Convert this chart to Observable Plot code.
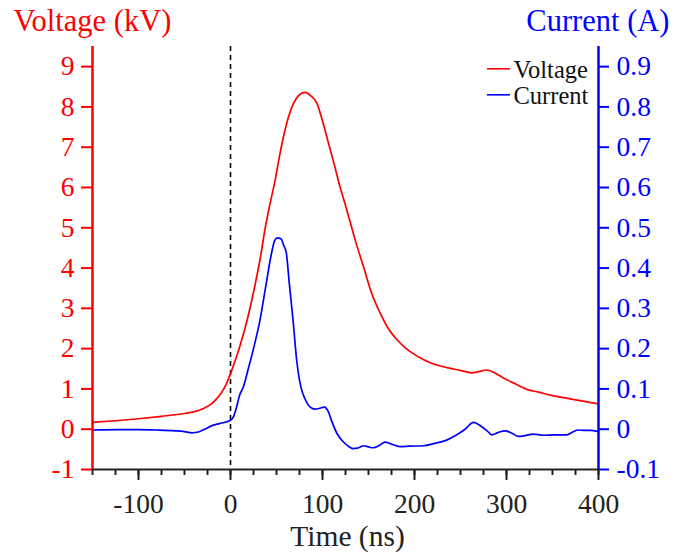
<!DOCTYPE html>
<html>
<head>
<meta charset="utf-8">
<script src="https://cdn.jsdelivr.net/npm/d3@7"></script>
<script src="https://cdn.jsdelivr.net/npm/@observablehq/plot@0.6"></script>
<style>
  html, body { margin: 0; padding: 0; background: #fff; }
  #chart { width: 686px; height: 552px; }
  #chart svg, #chart svg text { font-family: "Liberation Serif", "Times New Roman", serif; }
</style>
</head>
<body>
<div id="chart"></div>
<script>
// Voltage (kV) vs time (ns)
const voltageTime = [-150, -125, -100, -75, -50, -40, -30, -20, -15, -10, -5, 0, 5, 10, 18, 25, 32, 38, 43, 48.6, 53, 57.6, 63, 68.5, 74, 81, 87, 94, 100, 106.5, 113, 119, 124.7, 130, 135.5, 144.6, 153, 162.7, 171, 181, 190, 199, 208, 217, 228, 239, 250, 262, 270, 278.7, 287, 296.7, 310, 322, 335, 349, 365, 380, 400];
const voltageValue = [0.17, 0.21, 0.26, 0.32, 0.39, 0.43, 0.51, 0.64, 0.76, 0.90, 1.10, 1.38, 1.70, 2.05, 2.70, 3.40, 4.20, 5.03, 5.60, 6.19, 6.75, 7.26, 7.75, 8.09, 8.28, 8.36, 8.28, 8.09, 7.65, 7.10, 6.55, 6.02, 5.58, 5.15, 4.70, 4.03, 3.40, 2.88, 2.52, 2.22, 2.02, 1.87, 1.75, 1.65, 1.57, 1.51, 1.46, 1.40, 1.43, 1.47, 1.40, 1.27, 1.12, 0.99, 0.92, 0.84, 0.77, 0.71, 0.63];

// Current (A) vs time (ns)
const currentTime = [-150, -120, -100, -80, -60, -50, -42, -35, -28, -20, -12, -5, 0, 3, 6, 10, 14, 19, 25, 32, 38, 44, 48, 51, 55, 58, 60.5, 64, 68, 72, 76.5, 81, 86.6, 92, 97, 102, 106, 110, 115.6, 122, 128, 133, 138, 144.6, 150, 155, 162, 168, 175, 184, 195, 210, 222, 235, 245, 255, 264, 272, 279, 284, 291, 298.6, 306, 313, 320, 329, 340, 352, 365.6, 372, 378, 385, 391, 400];
const currentValue = [-0.002, -0.001, -0.001, -0.002, -0.004, -0.006, -0.009, -0.007, 0.0, 0.009, 0.014, 0.018, 0.022, 0.03, 0.05, 0.085, 0.105, 0.147, 0.20, 0.27, 0.35, 0.43, 0.468, 0.475, 0.472, 0.455, 0.44, 0.36, 0.27, 0.17, 0.105, 0.075, 0.055, 0.05, 0.052, 0.055, 0.045, 0.02, -0.01, -0.03, -0.042, -0.048, -0.047, -0.041, -0.044, -0.046, -0.04, -0.032, -0.037, -0.043, -0.042, -0.041, -0.035, -0.027, -0.015, 0.0, 0.017, 0.008, -0.004, -0.014, -0.008, -0.004, -0.01, -0.018, -0.016, -0.012, -0.015, -0.014, -0.014, -0.007, -0.002, -0.003, -0.003, -0.006];

// Axis ticks / labels
const xMajorTicks = [-100, 0, 100, 200, 300, 400];
const xMinorTicks = d3.range(-150, 401, 25);
const voltageTicks = [-1, 0, 1, 2, 3, 4, 5, 6, 7, 8, 9];
const currentTicks = [-0.1, 0, 0.1, 0.2, 0.3, 0.4, 0.5, 0.6, 0.7, 0.8, 0.9];
const currentScale = 10; // 1 A on the right axis = 10 kV on the left axis

const seriesNames = ["Voltage", "Current"];
const seriesColors = ["#ff0000", "#0000ff"];

const voltage = voltageTime.map((t, i) => ({t, v: voltageValue[i]}));
const current = currentTime.map((t, i) => ({t, v: currentValue[i] * currentScale}));

const font = "Liberation Serif, Times New Roman, serif";
const legendSymbol = {draw(ctx) { ctx.moveTo(-11.5, 0); ctx.lineTo(11.5, 0); }};

const chart = Plot.plot({
  width: 686,
  height: 552,
  marginLeft: 92,
  marginRight: 88,
  marginTop: 46,
  marginBottom: 83,
  style: "font-family: 'Liberation Serif', 'Times New Roman', serif; font-size: 27px; background: #fff; color: #000;",
  x: {domain: [-150, 400]},
  y: {domain: [-1, 9.5]},
  marks: [
    Plot.ruleX([0], {stroke: "#000", strokeWidth: 1.6, strokeDasharray: "5,4"}),
    Plot.line(voltage, {x: "t", y: "v", stroke: seriesColors[0], strokeWidth: 1.7, curve: "monotone-x"}),
    Plot.line(current, {x: "t", y: "v", stroke: seriesColors[1], strokeWidth: 1.7, curve: "monotone-x"}),
    // x axis
    Plot.axisX({ticks: xMinorTicks, tickSize: 6, tickFormat: () => "", label: null, color: "#222", strokeWidth: 2}),
    Plot.axisX({ticks: xMajorTicks, tickSize: 11, tickPadding: 13, tickFormat: d => String(d), label: null, color: "#222", strokeWidth: 2, fontSize: 27.5, fontFamily: font}),
    Plot.ruleY([-1], {stroke: "#222", strokeWidth: 2}),
    // left axis (voltage)
    Plot.axisY({ticks: voltageTicks, tickSize: 11, tickPadding: 7, tickFormat: d => String(d), label: null, color: seriesColors[0], strokeWidth: 2, fontSize: 27.5, fontFamily: font}),
    Plot.ruleX([-150], {stroke: seriesColors[0], strokeWidth: 2.5}),
    // right axis (current)
    Plot.axisY({anchor: "right", ticks: currentTicks.map(c => c * currentScale), tickSize: 10, tickPadding: 8,
      tickFormat: d => (Math.abs(d) < 1e-9 ? "0" : (d / currentScale).toFixed(1)), label: null, color: seriesColors[1], strokeWidth: 2, fontSize: 27.5, fontFamily: font}),
    Plot.ruleX([400], {stroke: seriesColors[1], strokeWidth: 2.5}),
    // titles
    Plot.text(["Voltage (kV)"], {frameAnchor: "top-left", textAnchor: "start", lineAnchor: "bottom", dx: -79, dy: -16, fontSize: 30.5, fontFamily: font, fill: seriesColors[0]}),
    Plot.text(["Current (A)"], {frameAnchor: "top-right", textAnchor: "end", lineAnchor: "bottom", dx: 71, dy: -16, fontSize: 30.5, fontFamily: font, fill: seriesColors[1]}),
    Plot.text(["Time (ns)"], {frameAnchor: "bottom", textAnchor: "middle", lineAnchor: "bottom", dx: 2, dy: 76, fontSize: 29.5, fontFamily: font, fill: "#222"}),
    // legend
    Plot.dot([seriesNames[0]], {frameAnchor: "top-right", dx: -100, dy: 22.3, symbol: legendSymbol, fill: "none", stroke: seriesColors[0], strokeWidth: 1.6}),
    Plot.dot([seriesNames[1]], {frameAnchor: "top-right", dx: -100, dy: 48.3, symbol: legendSymbol, fill: "none", stroke: seriesColors[1], strokeWidth: 1.6}),
    Plot.text([seriesNames[0]], {frameAnchor: "top-right", textAnchor: "start", lineAnchor: "bottom", dx: -85, dy: 31, fontSize: 24.5, fontFamily: font, fill: "#111"}),
    Plot.text([seriesNames[1]], {frameAnchor: "top-right", textAnchor: "start", lineAnchor: "bottom", dx: -85, dy: 57, fontSize: 24.5, fontFamily: font, fill: "#111"})
  ]
});
document.getElementById("chart").appendChild(chart);
</script>
</body>
</html>
